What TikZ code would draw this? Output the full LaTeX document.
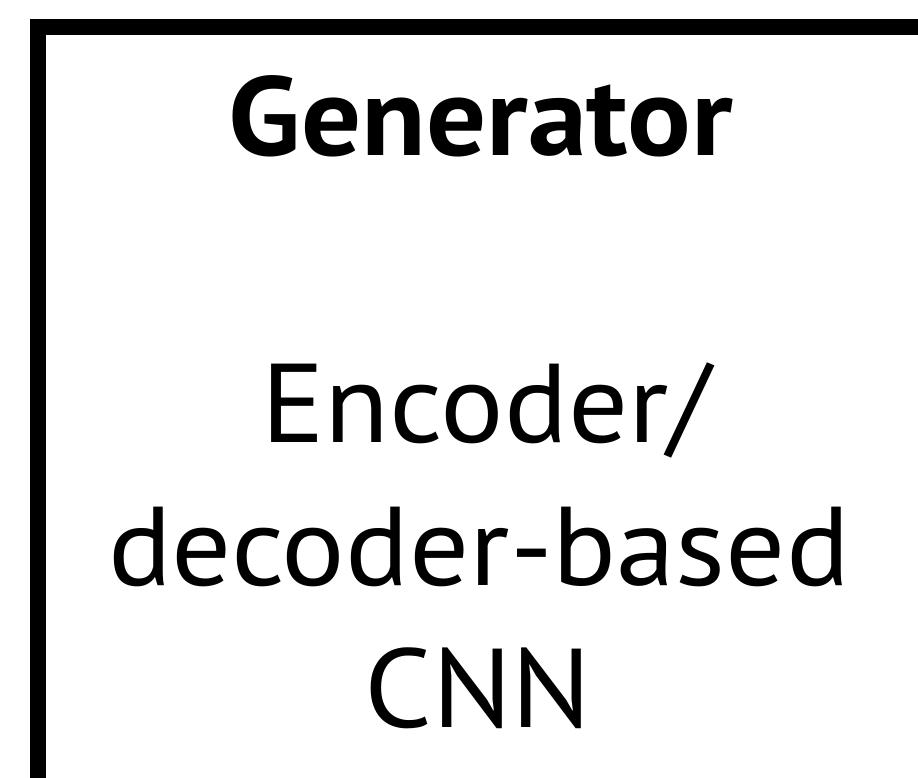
\documentclass[tikz,border=0pt]{standalone}
\usepackage{fontspec}
\setmainfont{PT Sans}[FakeStretch=1.06]
\begin{document}
\begin{tikzpicture}[x=1pt,y=-1pt,
  boxline/.style={draw=black,line width=16pt},
  label/.style={inner sep=0pt,anchor=base,font=\fontsize{112}{134}\selectfont}]
\useasboundingbox (0,0) rectangle (918,777);
\begin{scope}
\clip (0,0) rectangle (918,777);
\node[boxline,minimum width=900pt,minimum height=759pt,anchor=north west,inner sep=0pt] (box) at (30,19) {};
\end{scope}
\node[label,font=\fontsize{112}{134}\selectfont\bfseries] (title) at (481,155) {Generator};
\node[label] (l1) at (486,442) {Encoder/};
\node[label] (l2) at (479,585) {decoder-based};
\node[label] (l3) at (478,727) {CNN};
\end{tikzpicture}
\end{document}
